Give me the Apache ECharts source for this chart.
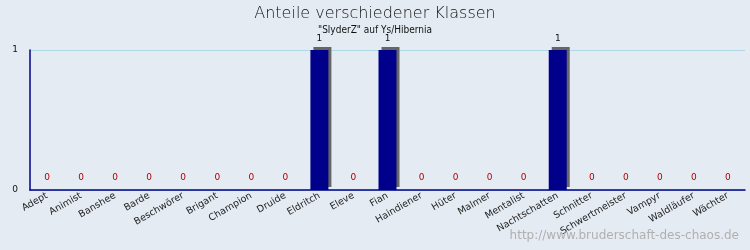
<!DOCTYPE html>
<html><head><meta charset="utf-8">
<script src="https://cdn.jsdelivr.net/npm/echarts@6/dist/echarts.min.js"></script>
<style>html,body{margin:0;padding:0;background:#e5ebf2;}#c{width:750px;height:250px;}</style>
</head><body><div id="c"></div>
<script>
const categories = ["Adept","Animist","Banshee","Barde","Beschwörer","Brigant","Champion","Druide","Eldritch","Eleve","Fian","Haindiener","Hüter","Malmer","Mentalist","Nachtschatten","Schnitter","Schwertmeister","Vampyr","Waldläufer","Wächter"];
const values = [0,0,0,0,0,0,0,0,1,0,1,0,0,0,0,1,0,0,0,0,0];
const yTicks = [0,1];
const titleText = "Anteile verschiedener Klassen";
const subtitleText = "\"SlyderZ\" auf Ys/Hibernia";
const watermark = "http://www.bruderschaft-des-chaos.de";

const chart = echarts.init(document.getElementById('c'), null, {renderer:'canvas'});
chart.setOption({
  backgroundColor: '#e5ebf2',
  animation: false,
  title: [
    {text: titleText, left: 'center', top: 1, textStyle:{fontFamily:'DejaVu Sans', fontSize:16, fontWeight:'lighter', color:'#111'}},
    {text: subtitleText, left: 'center', top: 20, textStyle:{fontFamily:'DejaVu Sans Condensed', fontSize:10, fontWeight:'normal', color:'#111'}},
    {text: watermark, right: 6, bottom: 3, textStyle:{fontFamily:'DejaVu Sans', fontSize:12, fontWeight:'normal', color:'#b0b0b0'}}
  ],
  grid: {left: 30, right: 5, top: 50, bottom: 60},
  xAxis: {
    type: 'category', data: categories,
    axisLine: {lineStyle:{color:'#00008b', width:1.5}},
    axisTick: {inside:true, length:5, lineStyle:{color:'#00008b', width:1.5}},
    axisLabel: {rotate:30, fontFamily:'DejaVu Sans', fontSize:9.5, color:'#222', margin:5, interval:0}
  },
  yAxis: {
    type: 'value', min: yTicks[0], max: yTicks[yTicks.length-1], interval: 1,
    axisLine: {show:true, lineStyle:{color:'#00008b', width:1.5}},
    axisTick: {show:false},
    splitLine: {lineStyle:{color:'#add8e6', width:1}},
    axisLabel: {fontFamily:'DejaVu Sans', fontSize:9, color:'#111', margin:12}
  },
  series: [{
    type: 'bar', barWidth: 18,
    data: values.map(v => ({value:v, label:{color: v===0 ? '#b00000' : '#111', distance: v===0 ? 8 : 7}})),
    itemStyle: {color:'#00008b', shadowColor:'#666', shadowOffsetX:3, shadowOffsetY:-3, shadowBlur:0},
    label: {show:true, position:'top', fontFamily:'DejaVu Sans', fontSize:9}
  }]
});
</script></body></html>
